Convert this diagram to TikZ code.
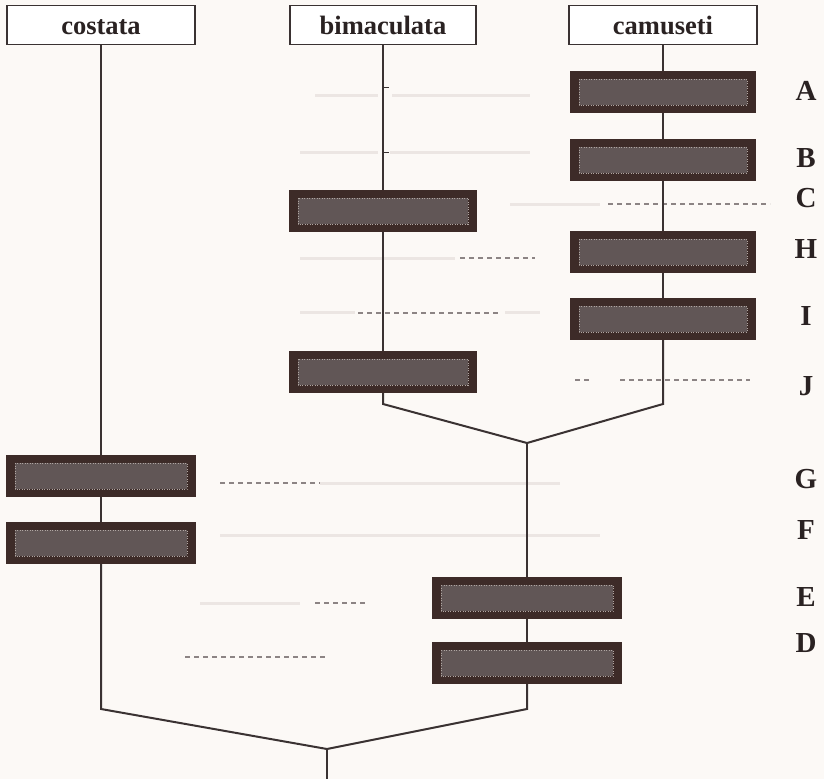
\documentclass[tikz,border=0pt]{standalone}
\usepackage{fontspec}
\setmainfont{Liberation Serif}
\definecolor{linec}{HTML}{3A3232}
\definecolor{barc}{HTML}{3D2B28}
\definecolor{barin}{HTML}{615656}
\definecolor{barrim}{HTML}{B0A6A2}
\definecolor{textc}{HTML}{2A2222}
\definecolor{bgc}{HTML}{FCF9F6}
\definecolor{dashc}{HTML}{8C8484}
\definecolor{faintc}{HTML}{ECE6E3}
\begin{document}
\begin{tikzpicture}[x=1pt,y=-1pt,
  ln/.style={line width=2pt, draw=linec},
  taxon/.style={draw=linec, line width=1.6pt, fill=white, minimum height=39pt, inner sep=0pt,
    font=\fontsize{26.5}{29}\selectfont\bfseries, text=textc},
  bar/.style={fill=barc, minimum height=42pt, minimum width=#1, inner sep=0pt,
    path picture={
      \fill[barin] ([xshift=9pt,yshift=-8pt]path picture bounding box.north west) rectangle ([xshift=-9pt,yshift=8pt]path picture bounding box.south east);
      \draw[barrim, line width=0.8pt, dash pattern=on 1pt off 1.5pt] ([xshift=9pt,yshift=-8pt]path picture bounding box.north west) rectangle ([xshift=-9pt,yshift=8pt]path picture bounding box.south east);
    }},
  lab/.style={font=\fontsize{29}{32}\selectfont\bfseries, text=textc},
  ghost/.style={draw=dashc, line width=1.3pt, dash pattern=on 5pt off 4pt},
  faint/.style={draw=faintc, line width=3pt}
]
\useasboundingbox[fill=bgc] (0,0) rectangle (824,779);

% faint guide lines
\draw[faint] (315,95) -- (378,95) (392,95) -- (530,95);
\draw[faint] (300,152) -- (378,152) (390,152) -- (530,152);
\draw[faint] (510,204) -- (600,204);
\draw[faint] (300,258) -- (455,258);
\draw[faint] (300,312) -- (355,312) (505,312) -- (540,312);
\draw[faint] (320,483) -- (560,483);
\draw[faint] (220,535) -- (600,535);
\draw[faint] (200,603) -- (300,603);
% dashed remnants
\draw[ghost] (608,204) -- (770,204);
\draw[ghost] (460,258) -- (535,258);
\draw[ghost] (358,313) -- (500,313);
\draw[ghost] (575,380) -- (590,380) (620,380) -- (750,380);
\draw[ghost] (220,483) -- (320,483);
\draw[ghost] (315,603) -- (365,603);
\draw[ghost] (185,657) -- (325,657);

% taxa
\node[taxon, minimum width=188pt] (costata) at (101,25) {\smash{\raisebox{-9pt}{costata}}};
\node[taxon, minimum width=186pt] (bimaculata) at (383,25) {\smash{\raisebox{-9pt}{bimaculata}}};
\node[taxon, minimum width=188pt] (camuseti) at (663,25) {\smash{\raisebox{-9pt}{camuseti}}};

% bars
\node[bar=186pt] (A) at (663,92) {};
\node[bar=186pt] (B) at (663,160) {};
\node[bar=188pt] (C) at (383,211) {};
\node[bar=186pt] (H) at (663,252) {};
\node[bar=186pt] (I) at (663,319) {};
\node[bar=188pt] (J) at (383,372) {};
\node[bar=190pt] (G) at (101,476) {};
\node[bar=190pt] (F) at (101,543) {};
\node[bar=190pt] (E) at (527,598) {};
\node[bar=190pt] (D) at (527,663) {};

% labels
\node[lab] (lA) at (806,91) {A};
\node[lab] (lB) at (806,158) {B};
\node[lab] (lC) at (806,198) {C};
\node[lab] (lH) at (806,249) {H};
\node[lab] (lI) at (806,316) {I};
\node[lab] (lJ) at (806,386) {J};
\node[lab] (lG) at (806,479) {G};
\node[lab] (lF) at (806,530) {F};
\node[lab] (lE) at (806,597) {E};
\node[lab] (lD) at (806,643) {D};

% junction points
\coordinate (cL) at (101,709);
\coordinate (cR) at (527,709);
\coordinate (jB) at (327,749);
\coordinate (root) at (327,779);
\coordinate (cJ) at (383,404);
\coordinate (cI) at (663,404);
\coordinate (jT) at (527,443);
\coordinate (t1) at (383,87);
\coordinate (t2) at (383,152);

% connectors
\draw[ln] (costata) -- (G);
\draw[ln] (G) -- (F);
\draw[ln] (bimaculata) -- (C);
\draw[ln] (C) -- (J);
\draw[ln] (camuseti) -- (A);
\draw[ln] (A) -- (B);
\draw[ln] (B) -- (H);
\draw[ln] (H) -- (I);
\draw[ln] (J.south) -- (cJ) -- (jT) -- (cI) -- (I.south);
\draw[ln] (jT) -- (E);
\draw[ln] (E) -- (D);
\draw[ln] (F.south) -- (cL) -- (jB) -- (cR) -- (D.south);
\draw[ln] (jB) -- (root);
\draw[linec, line width=0.8pt] (t1) -- ++(6,0);
\draw[linec, line width=0.8pt] (t2) -- ++(6,0);
\end{tikzpicture}
\end{document}
